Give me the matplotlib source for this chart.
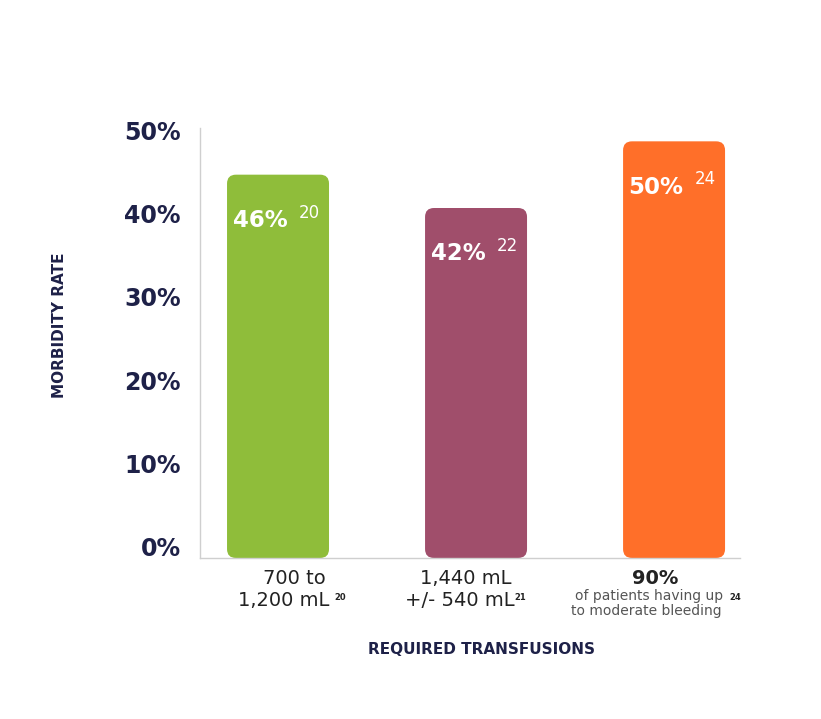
"""Morbidity rate vs required transfusions bar chart."""
import matplotlib

matplotlib.use("Agg")
import matplotlib.pyplot as plt
from matplotlib.patches import FancyBboxPatch
from matplotlib.transforms import ScaledTranslation, blended_transform_factory

# --------------------------------------------------------------------------- #
# data                                                                        #
# --------------------------------------------------------------------------- #
rates = [46, 42, 50]
rate_refs = ["20", "22", "24"]
bar_colors = ["#8FBD3A", "#A04E6B", "#FF6F29"]
yticks = [0, 10, 20, 30, 40, 50]
ytick_labels = ["0%", "10%", "20%", "30%", "40%", "50%"]
cat_top = ["700 to", "1,440 mL", "90%"]
cat_bottom = ["1,200 mL", "+/- 540 mL", None]
cat_refs = ["20", "21", "24"]
note_lines = ["of patients having up", "to moderate bleeding"]

NAVY = "#1E2148"
plt.rcParams["font.family"] = ["DejaVu Sans"]


def pt(px):
    return px * 0.72


fig = plt.figure(figsize=(8.21, 7.19), dpi=100)
ax = fig.add_axes([200 / 821, 1 - 558 / 719, 540 / 821, 430 / 719])

ax.set_xlim(-0.394, 2.333)
ax.set_ylim(0, 51.6)

width = 0.515
for i, (v, c) in enumerate(zip(rates, bar_colors)):
    box = FancyBboxPatch((i - width / 2, 0), width, v,
                         boxstyle="round,pad=0,rounding_size=0.045",
                         mutation_aspect=23.8, fc=c, ec="none")
    ax.add_patch(box)
    ax.annotate(f"{v}%", xy=(i, v), xytext=(pt(-18), pt(-46)),
                textcoords="offset points", ha="center", va="center",
                color="white", fontsize=16.5, fontweight="bold")
    ax.annotate(rate_refs[i], xy=(i, v), xytext=(pt(31), pt(-38)),
                textcoords="offset points", ha="center", va="center",
                color="white", fontsize=12)

# y axis
ax.set_yticks(yticks)
ax.set_yticklabels(ytick_labels, fontsize=17, fontweight="bold", color=NAVY)
ax.tick_params(axis="y", length=0, pad=14)
shift = ScaledTranslation(0, 11 / 100, fig.dpi_scale_trans)
for lab in ax.get_yticklabels():
    lab.set_transform(lab.get_transform() + shift)
ax.set_xticks([])

for s in ["top", "right"]:
    ax.spines[s].set_visible(False)
for s in ["left", "bottom"]:
    ax.spines[s].set_color("#CFCFCF")
    ax.spines[s].set_linewidth(1)

# category labels under the axis (offsets in px from the bar centre)
tr = blended_transform_factory(ax.transData, ax.transAxes)
top_dx = [16, -10, -19]
bot_dx = [6, -16]
ref_dx = [62, 44, 61]


def label(i, text, dx, dy, **kw):
    ax.annotate(text, xy=(i, 0), xycoords=tr, xytext=(pt(dx), pt(dy)),
                textcoords="offset points", ha="center", va="center", **kw)


for i in range(3):
    if cat_bottom[i] is not None:
        label(i, cat_top[i], top_dx[i], -21, color="#222222", fontsize=14)
        label(i, cat_bottom[i], bot_dx[i], -43, color="#222222", fontsize=14)
        label(i, cat_refs[i], ref_dx[i], -40, color="#222222", fontsize=6,
              fontweight="bold")
    else:
        label(i, cat_top[i], top_dx[i], -21, color="#222222", fontsize=14,
              fontweight="bold")
        label(i, note_lines[0], -25, -38, color="#555555", fontsize=10)
        label(i, note_lines[1], -28, -53, color="#555555", fontsize=10)
        label(i, cat_refs[i], ref_dx[i], -40, color="#222222", fontsize=6,
              fontweight="bold")

fig.text(482 / 821, 1 - 649 / 719, "REQUIRED TRANSFUSIONS", ha="center",
         va="center", color=NAVY, fontsize=11, fontweight="bold")
fig.text(60 / 821, 1 - 325 / 719, "MORBIDITY RATE", ha="center", va="center",
         rotation=90, color=NAVY, fontsize=11, fontweight="bold")

fig.savefig("out.png", dpi=100)
plt.close(fig)
